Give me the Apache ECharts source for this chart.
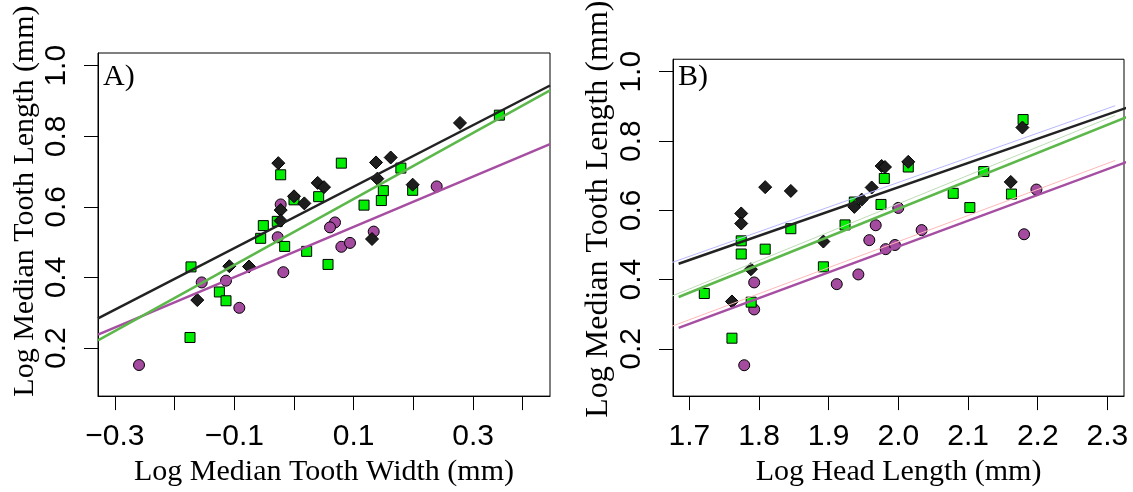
<!DOCTYPE html>
<html><head><meta charset="utf-8">
<script src="https://cdn.jsdelivr.net/npm/echarts@6/dist/echarts.min.js"></script>
<style>html,body{margin:0;padding:0;background:#fff}#c{width:1133px;height:492px}</style>
</head><body><div id="c"></div>
<script>
// ---------- Panel A: Log Median Tooth Width vs Log Median Tooth Length ----------
const aCircles = [[-0.2596,0.152],[-0.1546,0.386],[-0.1139,0.391],[-0.0916,0.314],[-0.0223,0.607],[-0.0273,0.514],[-0.0179,0.415],[0.0687,0.556],[0.0603,0.542],[0.0793,0.487],[0.0938,0.498],[0.1335,0.530],[0.239,0.658]];
const aSquares = [[-0.0223,0.691],[0.0793,0.724],[0.0413,0.629],[0.0,0.620],[-0.028,0.559],[-0.0514,0.547],[-0.0558,0.511],[-0.0156,0.488],[0.0212,0.474],[0.057,0.437],[-0.1725,0.430],[-0.125,0.359],[-0.1139,0.334],[-0.1742,0.230],[0.1173,0.605],[0.1496,0.646],[0.1463,0.618],[0.179,0.710],[0.1988,0.647],[0.344,0.860]];
const aDiamonds = [[-0.0263,0.724],[0.0397,0.668],[0.0503,0.656],[0.0,0.630],[0.0173,0.610],[-0.0223,0.591],[-0.0223,0.561],[0.1374,0.726],[0.162,0.740],[0.1396,0.680],[0.1988,0.663],[0.278,0.838],[0.1307,0.509],[-0.1083,0.432],[-0.0754,0.431],[-0.162,0.336]];
const aLineBlack = [[-0.3283,0.284],[0.4288,0.944]];
const aLineGreen = [[-0.3283,0.222],[0.4288,0.930]];
const aLinePurple = [[-0.3283,0.238],[0.4288,0.778]];
const aTicks = [-0.3,-0.2,-0.1,0,0.1,0.2,0.3,0.382];
const aTickLabels = [-0.3,-0.1,0.1,0.3];

// ---------- Panel B: Log Head Length vs Log Median Tooth Length ----------
const bCircles = [[1.7788,0.153],[1.7931,0.392],[1.7931,0.314],[1.9116,0.387],[1.9426,0.415],[1.9583,0.514],[1.9675,0.557],[1.9999,0.607],[1.9818,0.488],[1.9951,0.500],[2.0334,0.543],[2.1804,0.531],[2.1981,0.660]];
const bSquares = [[1.7215,0.360],[1.7612,0.231],[1.7745,0.512],[1.7745,0.474],[1.7888,0.335],[1.8089,0.488],[1.8457,0.547],[1.8924,0.437],[1.9235,0.558],[1.9368,0.624],[1.9798,0.692],[1.9751,0.617],[2.0142,0.725],[2.0787,0.649],[2.1026,0.608],[2.1226,0.712],[2.1623,0.647],[2.179,0.862]];
const bDiamonds = [[1.7745,0.591],[1.7745,0.562],[1.8089,0.667],[1.8457,0.656],[1.7884,0.430],[1.7612,0.337],[1.8924,0.510],[1.9368,0.610],[1.9474,0.631],[1.9617,0.666],[1.976,0.728],[1.9808,0.725],[2.0142,0.740],[2.1613,0.682],[2.178,0.839]];
const bLineBlack = [[1.6847,0.446],[2.3335,0.900]];
const bLineGreen = [[1.6847,0.350],[2.3335,0.874]];
const bLinePurple = [[1.6847,0.261],[2.3335,0.744]];
const bThinBlue = [[1.6731,0.448],[2.3112,0.902]];
const bThinGreen = [[1.6731,0.351],[2.3112,0.874]];
const bThinRed = [[1.6731,0.264],[2.3112,0.744]];
const bTicks = [1.7,1.8,1.9,2.0,2.1,2.2,2.3];

const yTicks = [0.2,0.4,0.6,0.8,1.0];

const SANS = 'Liberation Sans, Arial, sans-serif';
const SERIF = 'Liberation Serif, Times New Roman, serif';
const fmt = v => (v < 0 ? '\u2212' : '') + Math.abs(v).toFixed(1);

function xAxisCfg(idx, min, max, ticks, labels, name) {
  return {
    type: 'value', gridIndex: idx, min: min, max: max, position: 'bottom',
    axisLine: {show: true, onZero: false, lineStyle: {color: '#000', width: 1}}, splitLine: {show: false},
    axisTick: {show: true, inside: false, length: 14, customValues: ticks, lineStyle: {color: '#000', width: 1}},
    axisLabel: {customValues: labels, formatter: fmt, fontFamily: SANS, fontSize: 30, color: '#000', margin: 26},
    name: name, nameLocation: 'middle', nameGap: 56,
    nameTextStyle: {fontFamily: SERIF, fontSize: 30, color: '#000'}
  };
}
function yAxisCfg(idx, pad, fs) {
  return {
    type: 'value', gridIndex: idx, min: 0.0639, max: 1.0361, position: 'left',
    axisLine: {show: true, onZero: false, lineStyle: {color: '#000', width: 1}}, splitLine: {show: false},
    axisTick: {show: true, inside: false, length: 14, customValues: yTicks, lineStyle: {color: '#000', width: 1}},
    axisLabel: {customValues: yTicks, formatter: fmt, rotate: 90, fontFamily: SANS, fontSize: 30, color: '#000', margin: 26},
    name: 'Log Median Tooth Length (mm)', nameLocation: 'middle', nameGap: 58, nameRotate: 90,
    nameTextStyle: {fontFamily: SERIF, fontSize: fs, color: '#000', padding: [0, 0, 0, pad]}
  };
}
function lineS(idx, data, color, width) {
  return {type: 'line', xAxisIndex: idx, yAxisIndex: idx, data: data, symbol: 'none', clip: false, silent: true,
    lineStyle: {color: color, width: width}, animation: false};
}
function scat(idx, data, symbol, size, color) {
  return {type: 'scatter', xAxisIndex: idx, yAxisIndex: idx, data: data, symbol: symbol, symbolSize: size,
    itemStyle: {color: color, borderColor: '#000', borderWidth: 1, opacity: 1}, silent: true, animation: false};
}

const chart = echarts.init(document.getElementById('c'), null, {renderer: 'canvas'});
chart.setOption({
  backgroundColor: '#fff',
  animation: false,
  title: [
    {text: 'A)', left: 103, top: 62, padding: 0, textStyle: {fontFamily: SERIF, fontSize: 30, fontWeight: 'normal', color: '#000'}},
    {text: 'B)', left: 678, top: 62, padding: 0, textStyle: {fontFamily: SERIF, fontSize: 30, fontWeight: 'normal', color: '#000'}}
  ],
  grid: [
    {left: 98, top: 53, width: 452, height: 347, show: true, borderColor: '#000', borderWidth: 1, backgroundColor: 'transparent'},
    {left: 673, top: 53, width: 451, height: 346, show: true, borderColor: '#000', borderWidth: 1, backgroundColor: 'transparent'}
  ],
  xAxis: [
    xAxisCfg(0, -0.3283, 0.4288, aTicks, aTickLabels, 'Log Median Tooth Width (mm)'),
    xAxisCfg(1, 1.6766, 2.3238, bTicks, bTicks, 'Log Head Length (mm)')
  ],
  yAxis: [yAxisCfg(0, 47, 30), yAxisCfg(1, 37, 32)],
  series: [
    lineS(0, aLinePurple, '#a64ea2', 2.5),
    lineS(0, aLineGreen, '#5cb84a', 2.5),
    lineS(0, aLineBlack, '#222', 2.5),
    scat(0, aCircles, 'circle', 11, '#a44a9f'),
    scat(0, aSquares, 'rect', 10, '#00ee00'),
    scat(0, aDiamonds, 'diamond', 13, '#1e1e1e'),
    lineS(1, bThinBlue, '#b8b8ff', 1),
    lineS(1, bThinGreen, '#bddcb6', 1),
    lineS(1, bThinRed, '#ffb8b8', 1),
    lineS(1, bLinePurple, '#a64ea2', 2.5),
    lineS(1, bLineGreen, '#5cb84a', 2.5),
    lineS(1, bLineBlack, '#222', 2.5),
    scat(1, bCircles, 'circle', 11, '#a44a9f'),
    scat(1, bSquares, 'rect', 10, '#00ee00'),
    scat(1, bDiamonds, 'diamond', 13, '#1e1e1e')
  ]
});
</script></body></html>
